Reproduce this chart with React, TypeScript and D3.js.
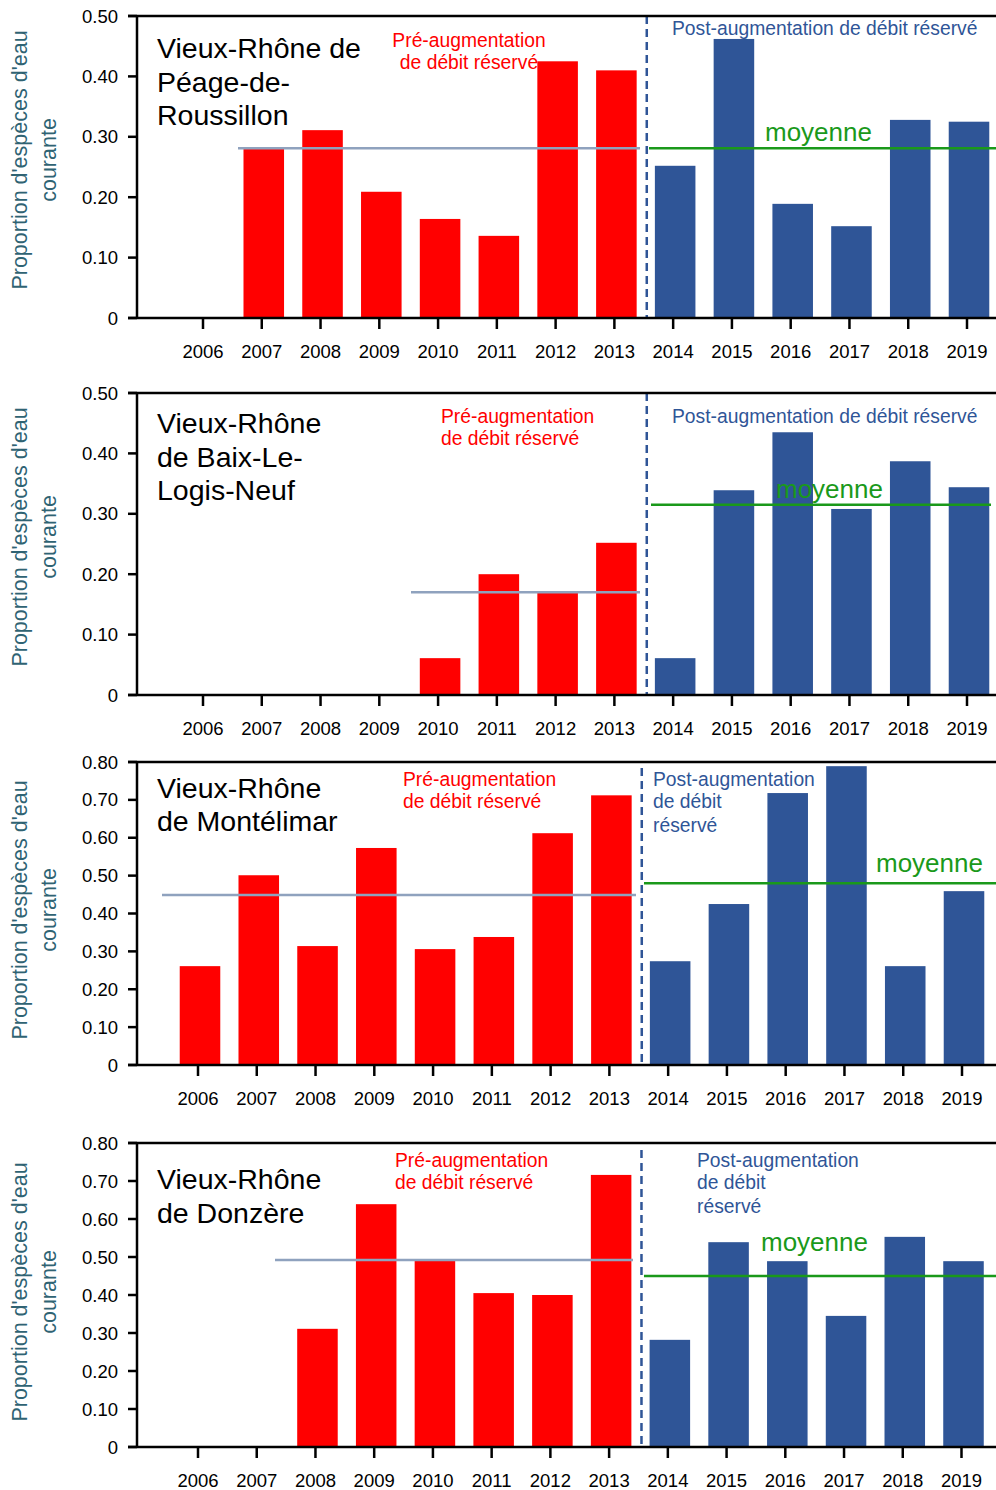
import React from "react";
import * as d3 from "d3";

const years = [2006, 2007, 2008, 2009, 2010, 2011, 2012, 2013, 2014, 2015, 2016, 2017, 2018, 2019];
const preYears = [2006, 2007, 2008, 2009, 2010, 2011, 2012, 2013];

// values per site (null = no data)
const peageValues = [null, 0.281, 0.311, 0.209, 0.164, 0.136, 0.425, 0.41, 0.252, 0.462, 0.189, 0.152, 0.328, 0.325];
const baixValues = [null, null, null, null, 0.061, 0.2, 0.169, 0.252, 0.061, 0.339, 0.435, 0.308, 0.387, 0.344];
const montelimarValues = [0.261, 0.501, 0.314, 0.573, 0.306, 0.338, 0.612, 0.712, 0.274, 0.425, 0.718, 0.789, 0.261, 0.459];
const donzereValues = [null, null, 0.311, 0.639, 0.492, 0.405, 0.4, 0.716, 0.282, 0.539, 0.489, 0.345, 0.553, 0.489];

const preMeans = [0.281, 0.17, 0.449, 0.492];
const postMeans = [0.281, 0.315, 0.48, 0.45];

const ticksHalf = [0, 0.1, 0.2, 0.3, 0.4, 0.5];
const ticksEight = [0, 0.1, 0.2, 0.3, 0.4, 0.5, 0.6, 0.7, 0.8];

const titles = [
  ["Vieux-Rhône de", "Péage-de-", "Roussillon"],
  ["Vieux-Rhône", "de Baix-Le-", "Logis-Neuf"],
  ["Vieux-Rhône", "de Montélimar"],
  ["Vieux-Rhône", "de Donzère"],
];
const preLabel = ["Pré-augmentation", "de débit réservé"];
const postLabelLong = ["Post-augmentation de débit réservé"];
const postLabelShort = ["Post-augmentation", "de débit", "réservé"];
const yLabel = ["Proportion d'espèces d'eau", "courante"];

const RED = "#ff0000";
const BLUE = "#2f5597";
const GREEN = "#1a991a";
const MEANPRE = "#8fa2be";
const TEAL = "#2f6373";
const FONT = "Liberation Sans, Arial, sans-serif";

// layout configuration (positions only)
const panels = [
  { values: peageValues, top: 16, zero: 318, max: 0.5, ticks: ticksHalf, c0: 205, c1: 969,
    preLine: [238, 640], postLine: [649, 996], dash: [16, 318],
    titleY: [58, 92, 125], preX: 469, preAnchor: "middle", preY: [46.5, 68.5],
    post: postLabelLong, postX: 672, postY: [34.5], moyX: 765, moyY: 141, yLabY: 160 },
  { values: baixValues, top: 393, zero: 695, max: 0.5, ticks: ticksHalf, c0: 205, c1: 969,
    preLine: [411, 640], postLine: [651, 991], dash: [393, 695],
    titleY: [433, 467, 500], preX: 441, preAnchor: "start", preY: [422.5, 444.5],
    post: postLabelLong, postX: 672, postY: [422.5], moyX: 776, moyY: 498, yLabY: 537 },
  { values: montelimarValues, top: 762, zero: 1065, max: 0.8, ticks: ticksEight, c0: 200, c1: 964,
    preLine: [162, 636], postLine: [644, 996], dash: [768, 1065],
    titleY: [798, 831], preX: 403, preAnchor: "start", preY: [785.5, 807.5],
    post: postLabelShort, postX: 653, postY: [785.5, 807.5, 831.5], moyX: 876, moyY: 872, yLabY: 910 },
  { values: donzereValues, top: 1143, zero: 1447, max: 0.8, ticks: ticksEight, c0: 200, c1: 963.5,
    preLine: [275, 633], postLine: [644, 996], dash: [1150, 1447],
    titleY: [1189, 1223], preX: 395, preAnchor: "start", preY: [1166.5, 1188.5],
    post: postLabelShort, postX: 697, postY: [1166.5, 1188.5, 1212.5], moyX: 761, moyY: 1251, yLabY: 1292 },
];

const AXIS_X = 137;
const ANNOT = 19.3;

function Panel({ p, i }: { p: any; i: number }) {
  const step = (p.c1 - p.c0) / (years.length - 1);
  const x = d3
    .scaleBand<number>()
    .domain(years)
    .range([p.c0 - step / 2, p.c1 + step / 2])
    .paddingInner(0.31)
    .paddingOuter(0.155);
  const y = d3.scaleLinear().domain([0, p.max]).range([p.zero, p.top]);
  const bw = x.bandwidth();
  const cx = (yr: number) => (x(yr) as number) + bw / 2;
  const dashX = (cx(2013) + cx(2014)) / 2 + 1;
  const data = years.map((yr, k) => ({ yr, v: p.values[k] as number | null }));

  return (
    <g>
      {data.filter((d) => d.v != null).map((d) => (
        <rect key={d.yr} x={x(d.yr)} y={y(d.v as number)} width={bw} height={y(0) - y(d.v as number)}
          fill={preYears.includes(d.yr) ? RED : BLUE} />
      ))}
      <line x1={p.preLine[0]} x2={p.preLine[1]} y1={y(preMeans[i])} y2={y(preMeans[i])} stroke={MEANPRE} strokeWidth={2.5} />
      <line x1={p.postLine[0]} x2={p.postLine[1]} y1={y(postMeans[i])} y2={y(postMeans[i])} stroke={GREEN} strokeWidth={2.5} />
      <line x1={dashX} x2={dashX} y1={p.dash[0]} y2={p.dash[1]} stroke={BLUE} strokeWidth={2.5} strokeDasharray="8,5" />
      <line x1={128} x2={996} y1={y(p.max)} y2={y(p.max)} stroke="#000" strokeWidth={2.5} />
      <line x1={AXIS_X} x2={AXIS_X} y1={y(p.max)} y2={y(0)} stroke="#000" strokeWidth={2.5} />
      <line x1={128} x2={996} y1={y(0)} y2={y(0)} stroke="#000" strokeWidth={2.5} />
      {p.ticks.map((t: number) => (
        <g key={t}>
          <line x1={128} x2={AXIS_X} y1={y(t)} y2={y(t)} stroke="#000" strokeWidth={2.5} />
          <text x={118} y={y(t) + 6.5} textAnchor="end" fontSize={18.5} fontFamily={FONT} fill="#000">
            {t === 0 ? "0" : d3.format(".2f")(t)}
          </text>
        </g>
      ))}
      {years.map((yr) => (
        <g key={yr}>
          <line x1={cx(yr) - 2} x2={cx(yr) - 2} y1={y(0)} y2={y(0) + 11} stroke="#000" strokeWidth={2.5} />
          <text x={cx(yr) - 2} y={y(0) + 39.5} textAnchor="middle" fontSize={18.5} fontFamily={FONT} fill="#000">
            {yr}
          </text>
        </g>
      ))}
      <text transform={`translate(27,${p.yLabY}) rotate(-90)`} textAnchor="middle" fontSize={21.5} fontFamily={FONT} fill={TEAL}>
        {yLabel[0]}
      </text>
      <text transform={`translate(56,${p.yLabY}) rotate(-90)`} textAnchor="middle" fontSize={21.5} fontFamily={FONT} fill={TEAL}>
        {yLabel[1]}
      </text>
      {titles[i].map((t, k) => (
        <text key={k} x={157} y={p.titleY[k]} fontSize={28.5} fontFamily={FONT} fill="#000">{t}</text>
      ))}
      {preLabel.map((t, k) => (
        <text key={k} x={p.preX} y={p.preY[k]} textAnchor={p.preAnchor} fontSize={ANNOT} fontFamily={FONT} fill={RED}>{t}</text>
      ))}
      {p.post.map((t: string, k: number) => (
        <text key={k} x={p.postX} y={p.postY[k]} fontSize={ANNOT} fontFamily={FONT} fill={BLUE}>{t}</text>
      ))}
      <text x={p.moyX} y={p.moyY} fontSize={26} fontFamily={FONT} fill={GREEN}>moyenne</text>
    </g>
  );
}

export default function App() {
  return (
    <div style={{ position: "absolute", left: 0, top: 0 }}>
      <svg width={996} height={1490} style={{ display: "block", background: "#fff" }}>
        <rect width={996} height={1490} fill="#fff" />
        {panels.map((p, i) => (
          <Panel key={i} p={p} i={i} />
        ))}
      </svg>
    </div>
  );
}
